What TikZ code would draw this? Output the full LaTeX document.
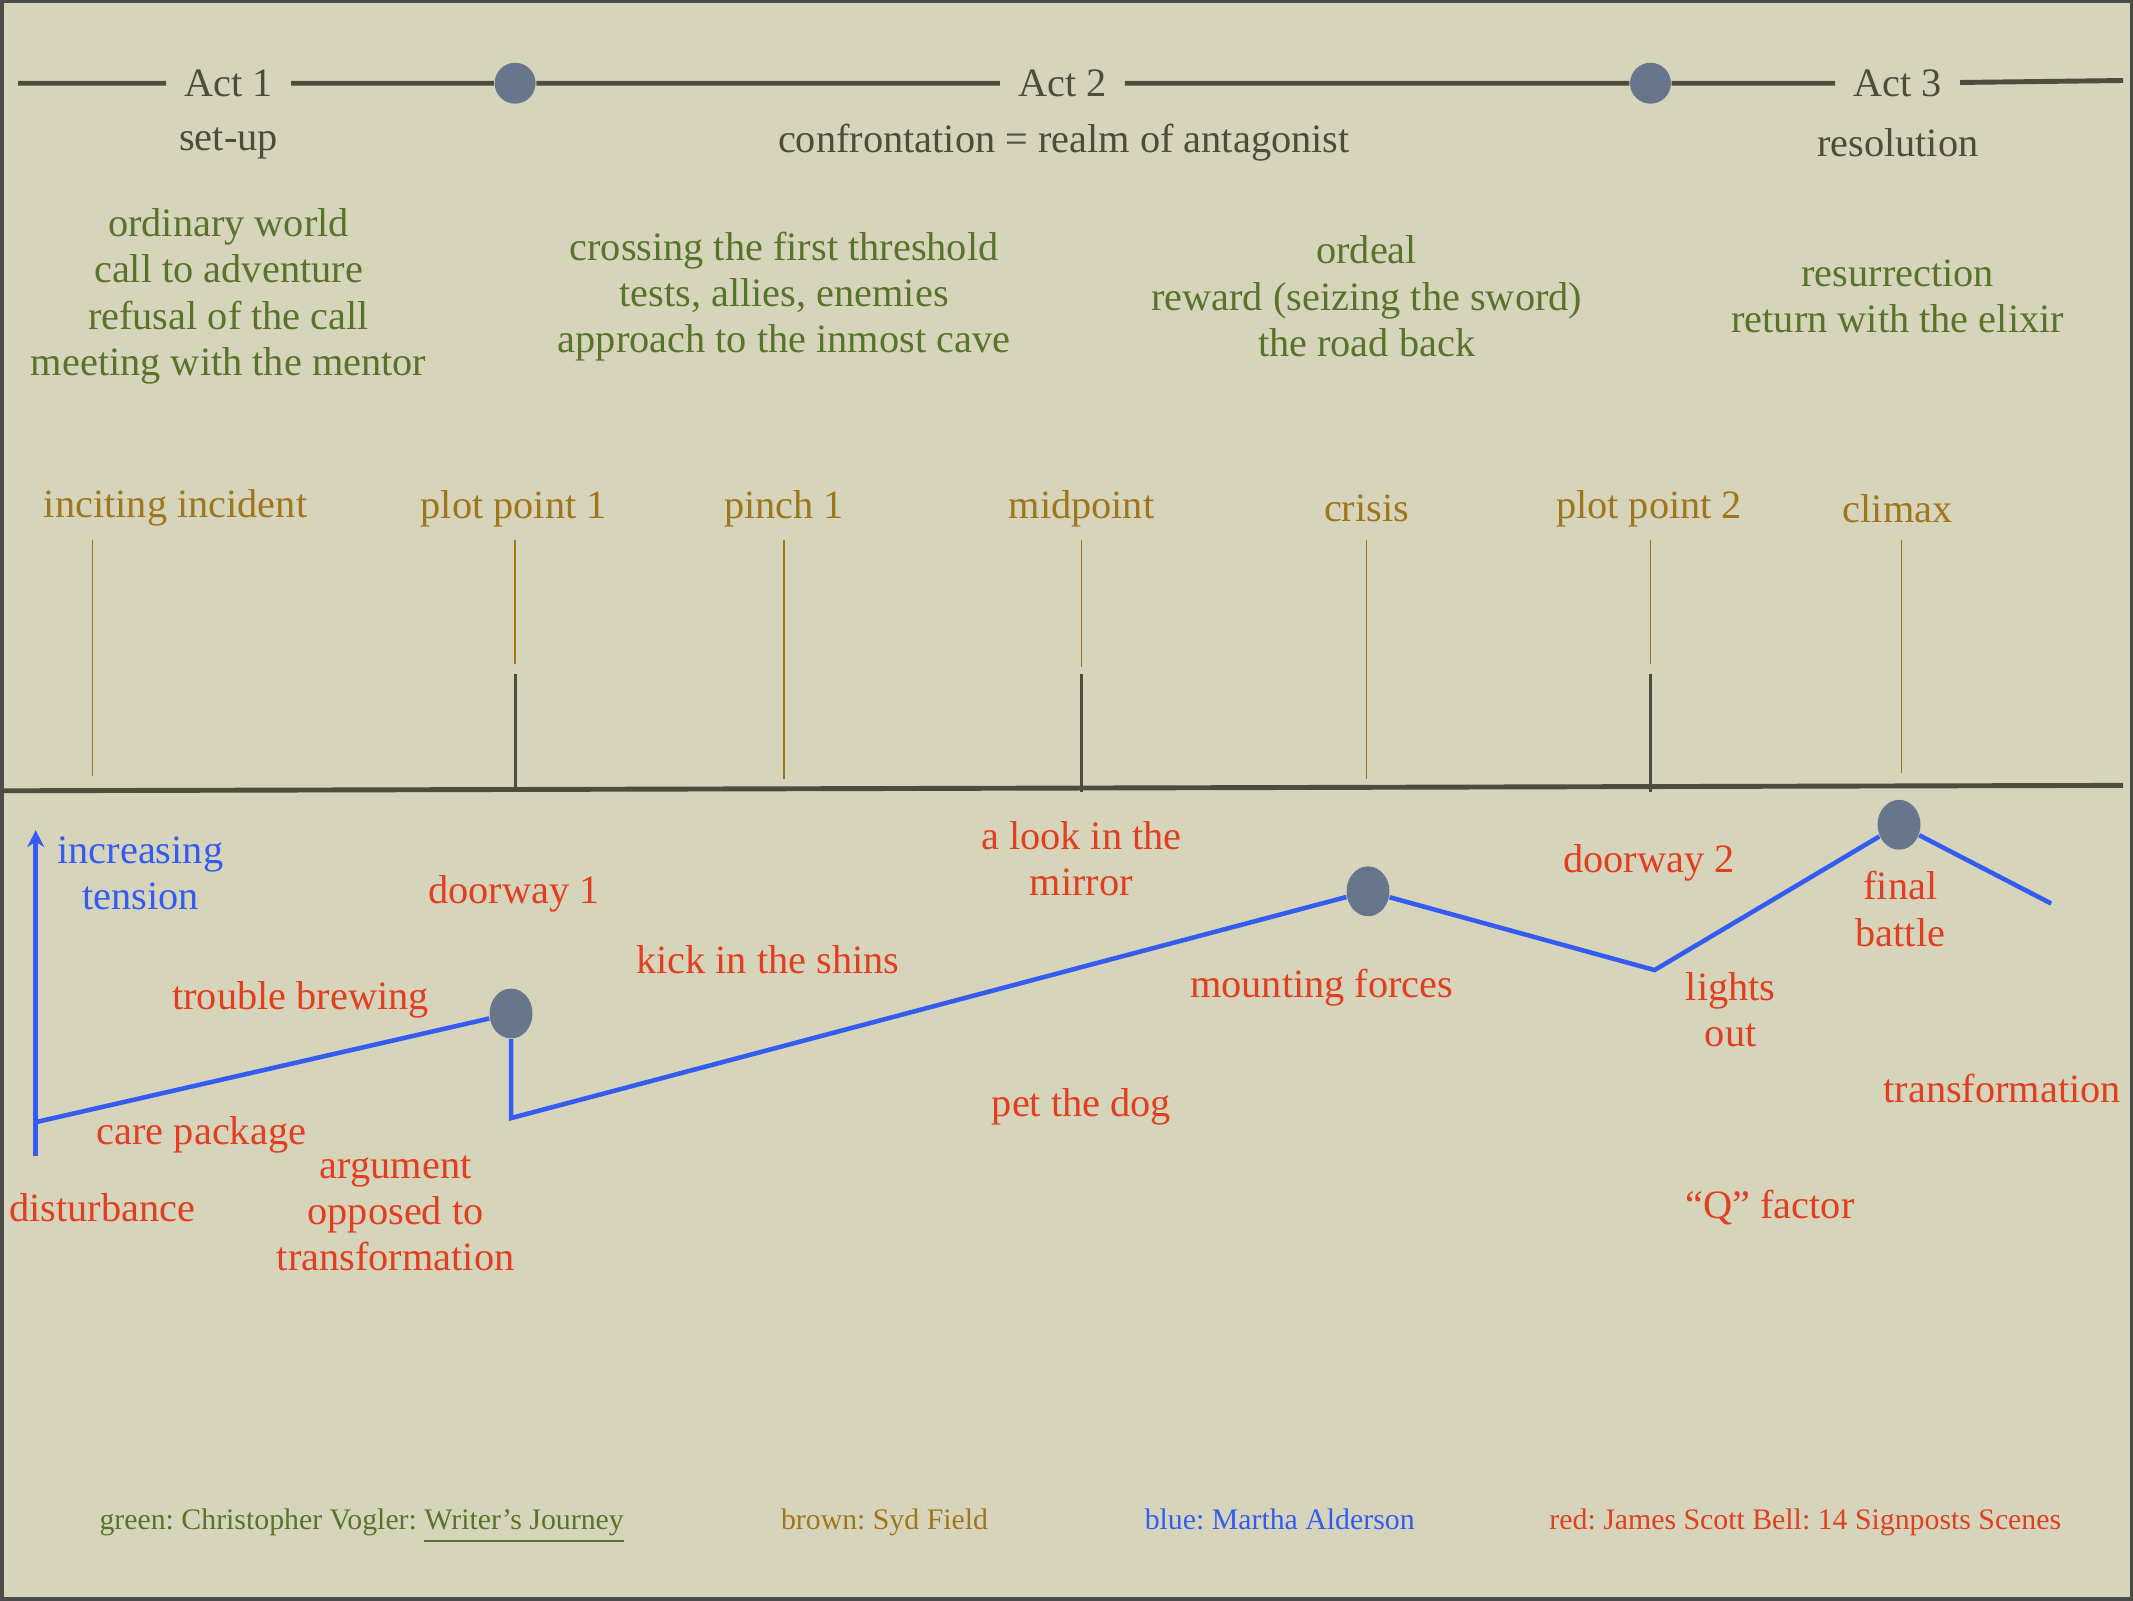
\documentclass[tikz,border=0pt]{standalone}
\usepackage{fontspec}
\setmainfont{Liberation Serif}
\usetikzlibrary{shapes.geometric,arrows.meta}

\definecolor{paper}{RGB}{214,213,187}
\definecolor{actdark}{RGB}{78,76,60}
\definecolor{voglergreen}{RGB}{88,116,42}
\definecolor{sydbrown}{RGB}{160,118,28}
\definecolor{marthablue}{RGB}{52,92,242}
\definecolor{bellred}{RGB}{226,62,32}
\definecolor{dotgray}{RGB}{104,118,140}

\tikzset{
  txt/.style={font=\fontsize{11.5}{13.2}\selectfont, align=center},
  act/.style={txt, text=actdark, inner sep=5pt},
  vogler/.style={txt, text=voglergreen},
  syd/.style={txt, text=sydbrown},
  martha/.style={txt, text=marthablue},
  bell/.style={txt, text=bellred},
  legend/.style={font=\fontsize{8.5}{10}\selectfont\frenchspacing, anchor=base},
  actline/.style={line width=1.4pt, actdark},
  sydline/.style={line width=0.4pt, sydbrown},
  tickline/.style={line width=0.9pt, actdark},
  tensionline/.style={line width=1.3pt, marthablue},
  topdot/.style={circle, fill=dotgray, minimum size=0.41cm, inner sep=0pt},
  lowdot/.style={ellipse, fill=dotgray, minimum width=0.43cm, minimum height=0.5cm, inner sep=0pt}
}

\begin{document}
\begin{tikzpicture}[x=0.013605cm, y=-0.013605cm]
  \fill[paper] (0,0) rectangle (1568,1176);
  \draw[line width=1pt, gray!60!black] (0,0) rectangle (1568,1176);
  \useasboundingbox (0,0) rectangle (1568,1176);

  % acts
  \coordinate (tl) at (12,60);
  \coordinate (tr) at (1562,58);
  \node[act] (act1) at (167,60) {Act 1};
  \node[topdot] (t1) at (378,60) {};
  \node[act] (act2) at (781,60) {Act 2};
  \node[topdot] (t2) at (1214,60) {};
  \node[act] (act3) at (1396,60) {Act 3};
  \draw[actline] (tl) -- (act1) -- (t1) -- (act2) -- (t2) -- (act3) -- (tr);

  \node[txt, text=actdark] (setup) at (167,104) {set-up};
  \node[txt, text=actdark] (confront) at (782,104) {confrontation = realm of antagonist};
  \node[txt, text=actdark] (resol) at (1396,104) {resolution};

  % Vogler stages
  \node[vogler] (v1) at (167,217) {ordinary world\\call to adventure\\refusal of the call\\meeting with the mentor};
  \node[vogler] (v2) at (576,217) {crossing the first threshold\\tests, allies, enemies\\approach to the inmost cave};
  \node[vogler] (v3) at (1005,217) {ordeal\\reward (seizing the sword)\\the road back};
  \node[vogler] (v4) at (1396,217) {resurrection\\return with the elixir};

  % Syd Field plot points
  \foreach \lx/\vx/\ey/\txt/\nm in {128/67/570/inciting incident/inc, 377/378/488/plot point 1/pp1,
      576/576/572/pinch 1/pin, 795/795/490/midpoint/mid, 1005/1005/572/crisis/cri,
      1213/1214/488/plot point 2/pp2, 1396/1399/568/climax/cli} {
    \node[syd] (\nm) at (\lx,373) {\txt};
    \draw[sydline] (\vx,396) -- (\vx,\ey);
  }

  \coordinate (bl) at (0,581);
  \coordinate (br) at (1562,577);
  \draw[actline] (bl) -- (br);
  \foreach \x in {378,795,1214} {
    \draw[tickline] (\x,495) -- (\x,582);
  }

  % tension line
  \coordinate (ax0) at (25,850);
  \coordinate (ax1) at (25,610);
  \draw[tensionline, -{Stealth[length=0.17cm, width=0.17cm]}] (ax0) -- (ax1);
  \node[martha] (tension) at (102,642) {increasing\\tension};

  \coordinate (b0) at (25,825);
  \node[lowdot] (d1) at (375,745) {};
  \coordinate (b1) at (375,822);
  \node[lowdot] (d2) at (1006,655) {};
  \coordinate (b2) at (1217,713);
  \node[lowdot] (d3) at (1397,606) {};
  \coordinate (b3) at (1509,664);
  \draw[tensionline] (b0) -- (d1) -- (b1) -- (d2) -- (b2) -- (d3) -- (b3);

  % signpost scenes
  \node[bell] (trouble) at (220,735) {trouble brewing};
  \node[bell] (care) at (147,834) {care package};
  \node[bell] (disturb) at (74,888) {disturbance};
  \node[bell] (argue) at (290,892) {argument\\opposed to\\transformation};
  \node[bell] (door1) at (377,657) {doorway 1};
  \node[bell] (kick) at (564,705) {kick in the shins};
  \node[bell] (mirror) at (795,631) {a look in the\\mirror};
  \node[bell] (petdog) at (795,814) {pet the dog};
  \node[bell] (mount) at (972,726) {mounting forces};
  \node[bell] (door2) at (1213,634) {doorway 2};
  \node[bell] (lights) at (1273,742) {lights\\out};
  \node[bell] (final) at (1398,668) {final\\battle};
  \node[bell] (transf) at (1473,800) {transformation};
  \node[bell] (qfactor) at (1302,888) {“Q” factor};

  % legend
  \node[legend, text=voglergreen] (lg) at (265,1125) {green: Christopher Vogler: \underline{Writer’s Journey}};
  \node[legend, text=sydbrown] (lb) at (650,1125) {brown: Syd Field};
  \node[legend, text=marthablue] (lbl) at (941,1125) {blue: Martha Alderson};
  \node[legend, text=bellred] (lr) at (1328,1125) {red: James Scott Bell: 14 Signposts Scenes};
\end{tikzpicture}
\end{document}
